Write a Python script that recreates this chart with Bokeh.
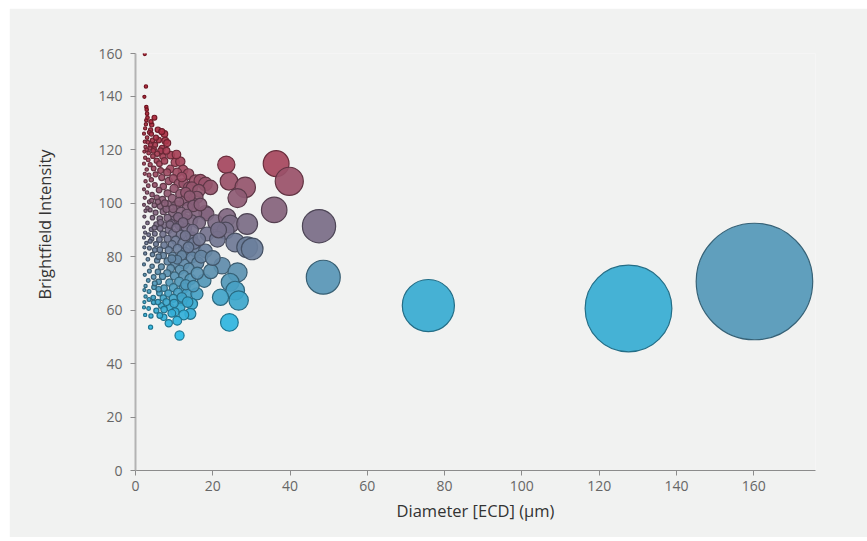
import numpy as np
from bokeh.plotting import figure
from bokeh.models import ColumnDataSource, LinearColorMapper, LinearInterpolator, FixedTicker, Spacer, Label
from bokeh.layouts import row, column
from bokeh.transform import transform
from bokeh.embed import file_html
from bokeh.resources import INLINE

# ---- data: particle diameter (ECD, um) and brightfield intensity ----
diam_a = [2.4, 2.7, 2.3, 2.8, 2.9]
inten_a = [155.8, 143.7, 139.8, 136.0, 135.0]

diam_b = [2.8, 3.1, 4.9, 4.2, 3.9, 3.6, 4.1, 7.5, 2.5, 2.2, 3.0]
inten_b = [131.0, 132.0, 132.0, 129.3, 127.4, 126.5, 125.9, 125.9, 128.0, 126.0, 124.5]

diam_c = [6.0, 7.7, 8.2, 2.4, 3.2, 4.4, 5.1, 2.6, 3.7, 4.8, 2.3, 3.4, 6.9, 6.5, 5.6]
inten_c = [123.6, 123.4, 122.5, 123.0, 122.8, 123.5, 121.8, 121.0, 120.6, 120.2, 119.3, 118.8, 120.5, 119.6, 118.5]

diam_d = [7.1, 4.5, 4.6, 2.5, 3.3, 5.5, 2.2, 3.8, 6.2, 10.3, 11.6, 12.3, 9.0, 8.2, 10.8, 4.7, 2.9, 6.5, 7.5, 13.7]
inten_d = [117.4, 117.6, 119.6, 117.0, 116.2, 115.9, 114.8, 114.4, 114.8, 115.3, 115.6, 112.4, 112.8, 111.5, 111.5, 113.0, 112.6, 112.2, 115.8, 110.9]

diam_e = [2.4, 3.5, 5.2, 6.8, 4.1, 2.6, 8.6, 9.8, 11.2, 12.5, 13.8, 15.5, 16.8, 18.1, 19.4, 14.6, 3.3, 5.0, 7.2, 10.0, 2.2, 6.1]
inten_e = [111.0, 110.5, 110.8, 109.6, 108.8, 108.2, 108.3, 109.2, 107.4, 107.4, 105.9, 108.4, 108.4, 107.2, 105.9, 105.9, 106.5, 106.8, 106.2, 105.5, 105.2, 104.9]

diam_f = [23.5, 24.2, 28.4, 36.4, 39.8]
inten_f = [114.4, 108.2, 105.9, 114.8, 108.2]

diam_g = [3.0, 4.3, 8.3, 11.6, 16.4, 15.9, 14.6, 2.4, 5.5, 7.0, 9.5, 12.8, 3.6, 2.2, 4.9, 6.4, 8.4, 10.7, 26.4, 13.5, 18.1, 18.5, 35.9]
inten_g = [104.0, 103.2, 103.7, 103.4, 104.7, 102.2, 100.3, 102.0, 102.1, 101.4, 101.8, 101.1, 100.5, 99.4, 99.2, 98.8, 99.5, 99.3, 101.9, 98.4, 96.6, 96.0, 97.5]

diam_h = [2.6, 3.8, 5.2, 7.2, 9.6, 11.8, 15.6, 2.3, 4.4, 6.3, 8.3, 10.4, 12.7, 14.6, 3.1, 5.4, 7.4, 9.3, 11.5, 16.5,
          2.2, 4.1, 6.4, 8.6, 13.2, 20.7, 23.7, 24.5, 23.3, 28.9, 47.5]
inten_h = [97.2, 97.5, 96.5, 96.9, 96.4, 96.8, 96.2, 95.0, 94.6, 94.2, 94.5, 93.9, 94.1, 93.5, 92.6, 92.1, 91.8, 92.4, 91.6, 92.7,
           91.0, 90.2, 90.5, 90.1, 90.6, 92.8, 94.7, 92.2, 89.7, 92.2, 91.4]

diam_i = [2.5, 3.4, 5.0, 7.1, 9.6, 11.8, 18.5, 2.2, 4.2, 6.2, 8.3, 10.4, 14.6, 2.8, 5.3, 7.4, 9.5, 12.2,
          3.6, 6.3, 8.6, 10.9, 12.9, 15.5, 18.1, 25.8, 28.9, 30.2, 2.3]
inten_i = [89.0, 88.2, 88.6, 88.4, 88.7, 88.2, 88.5, 87.1, 86.6, 86.4, 86.7, 86.1, 87.2, 85.1, 84.7, 84.3, 84.5, 85.0,
           83.2, 82.6, 82.4, 82.9, 81.6, 82.2, 82.2, 85.3, 83.5, 82.9, 83.5]

diam_j = [2.5, 4.4, 7.2, 9.6, 11.4, 14.6, 3.2, 5.6, 8.3, 10.2, 12.6, 16.1, 2.2, 4.3, 6.7, 9.1, 11.5, 13.8,
          3.6, 5.8, 8.2, 22.4, 26.4, 48.6, 160.2]
inten_j = [81.2, 80.8, 80.4, 80.2, 79.5, 79.7, 79.0, 78.6, 78.2, 77.5, 77.2, 77.6, 77.1, 76.4, 76.2, 75.6, 75.1, 75.6,
           74.6, 74.3, 73.8, 76.6, 74.1, 72.3, 70.7]

diam_k = [2.4, 4.7, 7.0, 10.1, 12.5, 3.3, 6.0, 8.8, 11.3, 14.2, 17.8, 2.6, 4.8, 7.4, 9.8, 12.6,
          3.5, 6.2, 8.5, 11.0, 13.4, 15.9, 24.5, 25.8]
inten_k = [73.2, 72.4, 72.6, 72.8, 73.0, 71.1, 70.6, 70.3, 70.6, 71.5, 71.0, 69.0, 68.6, 68.2, 68.4, 68.3,
           67.0, 66.4, 66.2, 66.6, 66.2, 66.1, 70.4, 67.3]

diam_l = [2.6, 4.6, 7.2, 9.8, 12.1, 2.3, 4.7, 6.7, 9.0, 11.6, 14.6, 3.4, 7.4, 14.2, 26.7, 22.0, 75.8, 127.6, 10.2, 5.4]
inten_l = [65.1, 64.7, 64.5, 64.4, 63.6, 63.0, 62.9, 61.7, 61.0, 61.0, 62.3, 60.6, 60.2, 58.6, 63.6, 64.8, 61.7, 60.6, 59.3, 59.8]

diam_m = [7.3, 8.6, 3.9, 11.4, 24.3]
inten_m = [57.3, 55.1, 53.6, 50.5, 55.4]

diam_n = [3.0, 4.0, 5.8, 2.7, 6.8, 9.1, 3.9, 5.3, 2.9, 8.0, 10.6, 12.0, 13.0, 14.0, 15.0, 16.8, 13.3, 11.0, 12.3, 14.8,
          15.2, 16.5, 13.7, 12.0, 10.8, 9.4, 6.0, 5.0, 3.8, 4.9, 6.5, 8.0, 9.7, 11.3, 7.6, 5.8, 4.2, 3.1, 8.9, 10.5,
          12.9, 17.0, 19.5, 21.2, 16.0, 20.0, 21.5]
inten_n = [133.5, 130.5, 127.5, 129.5, 126.8, 118.0, 121.8, 124.5, 120.0, 119.6, 118.2, 109.8, 104.0, 102.6, 99.0, 99.5, 95.8, 94.8, 92.8, 90.0,
           85.0, 86.5, 83.5, 80.5, 78.8, 79.2, 80.0, 82.5, 85.8, 90.8, 92.8, 97.8, 98.0, 100.5, 100.0, 100.5, 101.0, 98.2, 92.0, 90.8,
           87.8, 80.0, 74.5, 86.5, 73.8, 79.5, 90.0]

diam_o = [13.0, 15.0, 12.0, 13.5, 10.0, 8.0, 5.8, 3.5, 6.0, 5.0, 2.3, 2.2, 2.5, 4.0, 6.3, 9.4, 12.5, 10.8]
inten_o = [69.5, 69.0, 64.8, 63.0, 62.5, 63.0, 63.0, 64.0, 67.8, 70.0, 67.5, 61.0, 58.2, 57.8, 58.0, 58.8, 58.2, 56.0]

y_ticks = [0, 20, 40, 60, 80, 100, 120, 140, 156]
y_tick_labels = ["0", "20", "40", "60", "80", "100", "120", "140", "160"]
x_ticks = [0, 20, 40, 60, 80, 100, 120, 140, 160]
x_title = "Diameter [ECD] (µm)"
y_title = "Brightfield Intensity"

diameter = (diam_a + diam_b + diam_c + diam_d + diam_e + diam_f + diam_g + diam_h +
            diam_i + diam_j + diam_k + diam_l + diam_m + diam_n + diam_o)
intensity = (inten_a + inten_b + inten_c + inten_d + inten_e + inten_f + inten_g + inten_h +
             inten_i + inten_j + inten_k + inten_l + inten_m + inten_n + inten_o)
assert len(diameter) == len(intensity)

# ---- colour scale on intensity (cyan -> steel blue -> mauve -> red) ----
stop_y = [51, 55, 62, 72, 92, 115, 135]
stop_rgb = [(40, 188, 232), (47, 181, 224), (56, 170, 208), (88, 150, 182),
            (123, 108, 134), (166, 70, 93), (174, 30, 48)]
grid = np.linspace(stop_y[0], stop_y[-1], 256)
chan = np.array(stop_rgb, dtype=float)
fill_pal, line_pal = [], []
for g in grid:
    c = [np.interp(g, stop_y, chan[:, k]) for k in range(3)]
    fill_pal.append("#%02x%02x%02x" % tuple(int(round(v)) for v in c))
    line_pal.append("#%02x%02x%02x" % tuple(int(round(v * 0.64)) for v in c))

fill_map = LinearColorMapper(palette=fill_pal, low=stop_y[0], high=stop_y[-1],
                             low_color=fill_pal[0], high_color=fill_pal[-1])
line_map = LinearColorMapper(palette=line_pal, low=stop_y[0], high=stop_y[-1],
                             low_color=line_pal[0], high_color=line_pal[-1])
size_scale = LinearInterpolator(x=[0, 128, 176], y=[1.5, 87, 131])

src = ColumnDataSource(dict(x=diameter, y=intensity))

BG = "#f1f2f1"
p = figure(width=858, height=529, x_range=(0, 176), y_range=(0, 156),
           output_backend="svg", toolbar_location=None,
           background_fill_color=BG, border_fill_color=BG,
           min_border_left=126, min_border_right=52, min_border_top=45, min_border_bottom=67)
p.outline_line_color = None
p.xgrid.visible = False
p.ygrid.visible = False

p.scatter("x", "y", source=src, size=transform("x", size_scale),
          fill_color=transform("y", fill_map), line_color=transform("y", line_map),
          fill_alpha=0.92, line_width=1.2)

FONT = "Open Sans"
for ax in (p.xaxis[0], p.yaxis[0]):
    ax.major_label_text_font = FONT
    ax.major_label_text_font_size = "14px"
    ax.major_label_text_color = "#666666"
    ax.axis_label_text_font = FONT
    ax.axis_label_text_font_size = "16.5px"
    ax.axis_label_text_font_style = "normal"
    ax.axis_label_text_color = "#333333"
    ax.minor_tick_line_color = None
    ax.major_tick_in = 0
    ax.major_tick_out = 5

p.xaxis.axis_label = x_title
p.xaxis.ticker = FixedTicker(ticks=x_ticks)
p.xaxis.axis_line_color = "#8c8c8c"
p.xaxis.major_tick_line_color = "#8c8c8c"
p.xaxis.major_label_standoff = 5
p.xaxis.axis_label_standoff = 5

p.yaxis.ticker = FixedTicker(ticks=y_ticks)
p.yaxis.major_label_overrides = {t: s for t, s in zip(y_ticks, y_tick_labels)}
p.yaxis.axis_line_color = "#b3b3b3"
p.yaxis.axis_line_width = 2
p.yaxis.major_tick_line_color = "#8c8c8c"
p.yaxis.major_label_standoff = 8

# y-axis title: in the original it sits somewhat above the middle of the axis
p.add_layout(Label(x=-28, y=246, x_units="screen", y_units="screen", text=y_title,
                   angle=np.pi / 2, text_align="center", text_baseline="middle",
                   text_font=FONT, text_font_size="16.5px", text_color="#333333"), "left")

layout = column(Spacer(height=8), row(Spacer(width=9), p))
open("out.html", "w").write(file_html(layout, INLINE))
